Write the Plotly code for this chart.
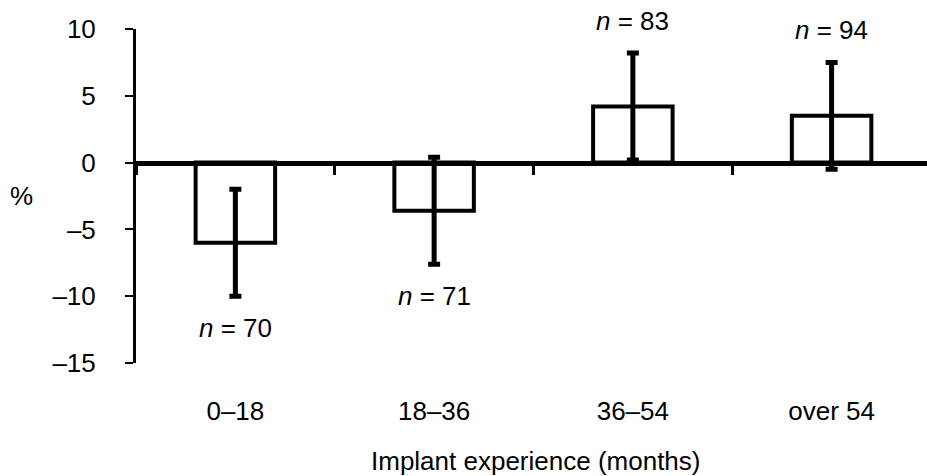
import plotly.graph_objects as go

categories = ["0–18", "18–36", "36–54", "over 54"]
means = [-6.0, -3.6, 4.2, 3.5]
errors = [4.0, 4.0, 4.0, 4.0]
n_values = [70, 71, 83, 94]
y_tickvals = [10, 5, 0, -5, -10, -15]
y_ticktext = ["10", "5", "0", "–5", "–10", "–15"]

FONT = "Liberation Sans, Arial, Helvetica, sans-serif"
FS = 26

fig = go.Figure()
fig.add_trace(go.Bar(
    x=categories, y=means, width=0.40,
    marker=dict(color="white", line=dict(color="black", width=4)),
    error_y=dict(type="data", array=errors, visible=True, color="black",
                 thickness=5, width=6),
    showlegend=False, hoverinfo="skip",
))
fig.add_trace(go.Scatter(x=[], y=[], xaxis="x2", showlegend=False, hoverinfo="skip"))

for c, m, e, n in zip(categories, means, errors, n_values):
    sign = 1 if m >= 0 else -1
    fig.add_annotation(x=c, y=m + sign * e, yshift=sign * 32, text=f"<i>n</i> = {n}",
                       showarrow=False, yanchor="middle", xanchor="center",
                       font=dict(family=FONT, size=FS, color="black"))

fig.add_annotation(xref="paper", yref="paper", x=-0.145, y=0.5, text="%",
                   showarrow=False, xanchor="center", yanchor="middle",
                   font=dict(family=FONT, size=FS, color="black"))
fig.add_annotation(xref="paper", yref="paper", x=0.505, y=-0.293,
                   text="Implant experience (months)",
                   showarrow=False, xanchor="center", yanchor="middle",
                   font=dict(family=FONT, size=FS, color="black"))

fig.update_layout(
    width=927, height=476,
    margin=dict(l=136, r=0, t=29, b=113),
    paper_bgcolor="white", plot_bgcolor="white",
    font=dict(family=FONT, size=FS, color="black"),
    xaxis=dict(type="category", range=[-0.5, 3.48], showline=False, ticks="",
               showgrid=False, zeroline=False, ticklabelstandoff=30,
               automargin=False),
    xaxis2=dict(overlaying="x", anchor="free", position=0.6, range=[-0.5, 3.48],
                showline=True, linecolor="black", linewidth=5,
                ticks="outside", tickvals=[-0.5, 0.5, 1.5, 2.5], ticklen=9,
                tickwidth=3, tickcolor="black", showticklabels=False,
                showgrid=False, zeroline=False, automargin=False),
    yaxis=dict(range=[-15, 10], tickvals=y_tickvals, ticktext=y_ticktext,
               showline=True, linecolor="black", linewidth=3,
               ticks="outside", ticklen=8, tickwidth=2, tickcolor="black",
               ticklabelstandoff=24, showgrid=False, zeroline=False,
               automargin=False),
)

fig.write_html("out.html", config={"displayModeBar": False},
               post_script="document.body.style.margin='0';document.body.style.overflow='hidden';")
